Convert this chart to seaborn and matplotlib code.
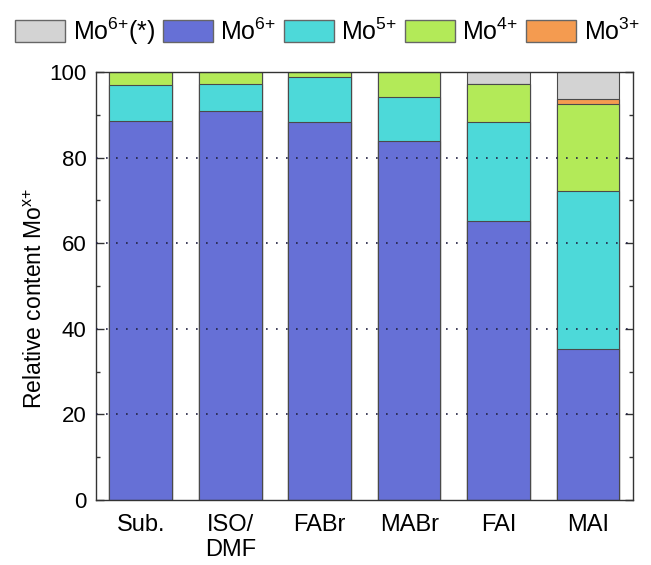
import matplotlib
matplotlib.use("Agg")
import matplotlib.pyplot as plt
import seaborn as sns
import pandas as pd
import numpy as np
from matplotlib.patches import Patch

categories = ["Sub.", "ISO/\nDMF", "FABr", "MABr", "FAI", "MAI"]
mo6 = [88.6, 91.0, 88.3, 83.9, 65.1, 35.3]
mo5 = [8.4, 6.3, 10.5, 10.3, 23.1, 36.9]
mo4 = [3.0, 2.7, 1.2, 5.8, 9.1, 20.3]
mo3 = [0.0, 0.0, 0.0, 0.0, 0.0, 1.1]
mo6_star = [0.0, 0.0, 0.0, 0.0, 2.7, 6.4]

series_labels = ["Mo$^{6{+}}$(*)", "Mo$^{6{+}}$", "Mo$^{5{+}}$", "Mo$^{4{+}}$", "Mo$^{3{+}}$"]
colors = {"star": "#D3D3D3", "mo6": "#6670D6", "mo5": "#4DD9D9",
          "mo4": "#B3EA58", "mo3": "#F49B50"}

sns.set_theme(style="white")
plt.rcParams["font.family"] = ["Liberation Sans", "DejaVu Sans"]
plt.rcParams["mathtext.fontset"] = "custom"
plt.rcParams["mathtext.rm"] = "Liberation Sans"
plt.rcParams["mathtext.it"] = "Liberation Sans"
plt.rcParams["mathtext.default"] = "regular"
plt.rcParams["text.color"] = "black"
plt.rcParams["axes.labelcolor"] = "black"
plt.rcParams["xtick.color"] = "black"
plt.rcParams["ytick.color"] = "black"

df = pd.DataFrame({"cat": categories, "mo6": mo6, "mo5": mo5, "mo4": mo4,
                   "mo3": mo3, "star": mo6_star})
df["c6"] = df["mo6"]
df["c5"] = df["c6"] + df["mo5"]
df["c4"] = df["c5"] + df["mo4"]
df["c3"] = df["c4"] + df["mo3"]
df["cs"] = df["c3"] + df["star"]

fig = plt.figure(figsize=(6.51, 5.65), dpi=100)
ax = fig.add_axes([0.1475, 0.115, 0.8245, 0.7576])

for col, key in [("cs", "star"), ("c3", "mo3"), ("c4", "mo4"), ("c5", "mo5"), ("c6", "mo6")]:
    sns.barplot(data=df, x="cat", y=col, color=colors[key], saturation=1,
                width=0.7, edgecolor="#4a4a4a", linewidth=0.8, ax=ax, zorder=2)

ax.set_ylim(0, 100)
ax.set_xlim(-0.5, 5.5)
ax.set_yticks([0, 20, 40, 60, 80, 100])
ax.set_yticks([10, 30, 50, 70, 90], minor=True)
ax.tick_params(axis="y", which="both", direction="in", left=True, right=True,
               labelsize=16, pad=7, color="#333333")
ax.tick_params(axis="y", which="major", length=6, width=1)
ax.tick_params(axis="y", which="minor", length=3, width=1)
ax.tick_params(axis="x", bottom=False, labelsize=17, pad=4)
for lab in ax.get_xticklabels():
    lab.set_verticalalignment("top")
ax.set_xlabel("")
ax.set_ylabel("Relative content Mo$^{x{+}}$", fontsize=16.5)
ax.yaxis.set_label_coords(-0.092, 0.47)

for v in [20, 40, 60, 80]:
    ax.axhline(v, color="#222244", linestyle=(0, (1, 5)), linewidth=1.2, zorder=5)

for sp in ax.spines.values():
    sp.set_color("#333333")
    sp.set_linewidth(1.0)

handles = [Patch(facecolor=colors[k], edgecolor="#666666", linewidth=1.0)
           for k in ["star", "mo6", "mo5", "mo4", "mo3"]]
fig.legend(handles, series_labels, loc="center", bbox_to_anchor=(0.503, 0.945),
           ncol=5, frameon=False, fontsize=18, handlelength=2.0, handleheight=0.96,
           handletextpad=0.3, columnspacing=0.3, borderaxespad=0)

fig.savefig("out.png", dpi=100)
